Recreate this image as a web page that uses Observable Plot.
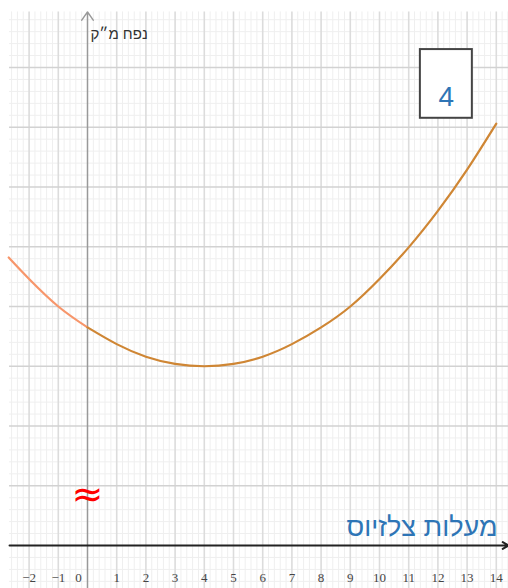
<!DOCTYPE html>
<html><head><meta charset="utf-8">
<script src="https://cdn.jsdelivr.net/npm/d3@7"></script>
<script src="https://cdn.jsdelivr.net/npm/@observablehq/plot@0.6"></script>
<style>html,body{margin:0;padding:0;background:#fff;overflow:hidden}svg{display:block}</style>
</head><body><div id="chart"></div>
<script>
// temperature (°C) on x, volume (m³) on y (y axis unlabelled; 1 unit = one major gridline)
const curveX = [-2.7, -2, -1, 0, 1, 2, 3, 4, 5, 6, 7, 8, 9, 10, 11, 12, 13, 14];
const curveY = [4.82, 4.46, 4.0, 3.65, 3.37, 3.16, 3.04, 3.0, 3.04, 3.16, 3.37, 3.65, 4.0, 4.46, 4.99, 5.6, 6.29, 7.06];
const tickValues = [-2, -1, 0, 1, 2, 3, 4, 5, 6, 7, 8, 9, 10, 11, 12, 13, 14];
const tickLabels = ["−2", "−1", "0", "1", "2", "3", "4", "5", "6", "7", "8", "9", "10", "11", "12", "13", "14"];
const yLabel = "נפח מ״ק";
const xLabel = "מעלות צלזיוס";
const boxLabel = "4";
const breakSymbol = "≈";

const pts = curveX.map((x, i) => ({x, y: curveY[i]}));
const left = pts.filter(d => d.x <= 0);
const right = pts.filter(d => d.x >= 0);

const xMin = -87/29.2, xMax = 421/29.2;
const yMin = -43/59.75, yMax = 545/59.75;
const gx0 = -2.67, gyTop = 8.93;

const minorX = d3.range(-13, 73).map(i => i/5).filter(v => v >= gx0 && !Number.isInteger(v));
const majorX = d3.range(-2, 15).filter(v => v !== 0);
const minorY = d3.range(-3, 45).map(i => i/5).filter(v => v <= gyTop && !Number.isInteger(v));
const majorY = d3.range(1, 9);

const chart = Plot.plot({
  width: 508, height: 588, margin: 0,
  x: {domain: [xMin, xMax]},
  y: {domain: [yMin, yMax]},
  axis: null,
  style: {background: "#fff"},
  marks: [
    Plot.ruleX(minorX, {x: d => d, y1: yMin, y2: gyTop, stroke: "#efefef", strokeWidth: 1}),
    Plot.ruleY(minorY, {y: d => d, x1: gx0, x2: xMax, stroke: "#efefef", strokeWidth: 1}),
    Plot.ruleX(majorX, {x: d => d, y1: yMin, y2: gyTop, stroke: "#dcdcdc", strokeWidth: 1.6}),
    Plot.ruleY(majorY, {y: d => d, x1: gx0, x2: xMax, stroke: "#d2d2d2", strokeWidth: 1.6}),
    // y axis with arrow
    Plot.arrow([{a: 0}], {x1: 0, y1: yMin, x2: 0, y2: 8.93, stroke: "#999", strokeWidth: 1.5, headLength: 10, headAngle: 70}),
    // x axis with arrow
    Plot.arrow([{a: 0}], {x1: gx0, y1: 0, x2: xMax, y2: 0, stroke: "#222", strokeWidth: 2, headLength: 5, headAngle: 60}),
    // curve
    Plot.line(left, {x: "x", y: "y", curve: "natural", stroke: "#f7966b", strokeWidth: 2.2}),
    Plot.line(right, {x: "x", y: "y", curve: "natural", stroke: "#cf8634", strokeWidth: 2.2}),
    // tick labels
    Plot.text(tickValues, {x: d => d, y: -0.535, text: (d, i) => tickLabels[i],
      fontFamily: "Liberation Serif", fontSize: 13, fill: "#444"}),
    // labels
    Plot.text([yLabel], {x: 0, y: 8.55, text: d => d, textAnchor: "start", dx: 3,
      fontFamily: "Liberation Sans", fontSize: 15, fill: "#333"}),
    Plot.text([xLabel], {x: xMax, y: 0.31, text: d => d, textAnchor: "end", dx: -11,
      fontFamily: "Liberation Sans", fontSize: 27, fill: "#2e75b6"}),
    Plot.text([breakSymbol], {x: 0, y: 0.85, text: d => d,
      fontFamily: "DejaVu Sans", fontSize: 38, fill: "#ff0000"}),
    Plot.rect([{a: 0}], {x1: 11.40, x2: 13.18, y1: 7.15, y2: 8.30, fill: "#fff", stroke: "#444", strokeWidth: 2}),
    Plot.text([boxLabel], {x: 12.29, y: 7.5, text: d => d,
      fontFamily: "Liberation Sans", fontSize: 28, fill: "#2e75b6"})
  ]
});
// shift the "0" tick label left of the y axis
chart.querySelectorAll("text").forEach(t => { if (t.textContent === "0") t.setAttribute("transform", (t.getAttribute("transform")||"") + " translate(-9,0)"); });
document.getElementById("chart").appendChild(chart);
</script></body></html>
